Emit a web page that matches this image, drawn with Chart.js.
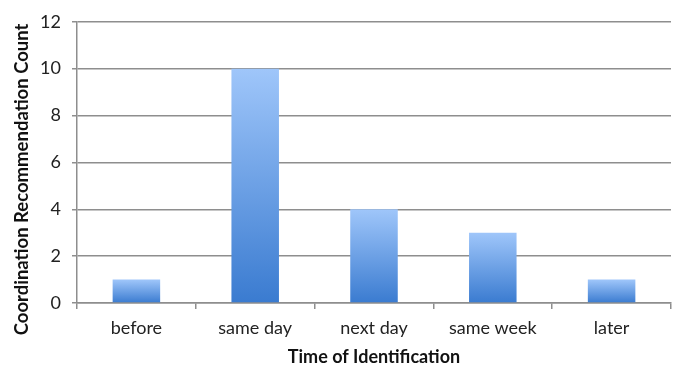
<!DOCTYPE html>
<html>
<head>
<meta charset="utf-8">
<script src="https://cdn.jsdelivr.net/npm/chart.js@4/dist/chart.umd.min.js"></script>
<style>
  html, body { margin: 0; padding: 0; background: #ffffff; }
  #wrap { width: 679px; height: 372px; position: relative; }
</style>
</head>
<body>
<div id="wrap"><canvas id="c" width="679" height="372"></canvas></div>
<script>
// Timing categories and recommendation counts
const categories = ['before', 'same day', 'next day', 'same week', 'later'];
const counts = [1, 10, 4, 3, 1];
const yTicks = [0, 2, 4, 6, 8, 10, 12];
const yTitle = 'Coordination Recommendation Count';

const FONT = 'Lato, "Open Sans", sans-serif';
const GRID = '#8e8e8e';

// Each bar gets its own vertical gradient, light at the top and deeper at the base
function barGradient(context) {
  const chart = context.chart;
  const yScale = chart.scales.y;
  if (!chart.chartArea || !yScale) return '#6aa1e8';
  const v = context.raw;
  const top = yScale.getPixelForValue(v);
  const base = yScale.getPixelForValue(0);
  if (!isFinite(top) || !isFinite(base) || top === base) return '#6aa1e8';
  const g = chart.ctx.createLinearGradient(0, top, 0, base);
  g.addColorStop(0, '#9fc6fa');
  g.addColorStop(1, '#3a7bd0');
  return g;
}

// Vertical axis title, sitting slightly below the middle of the value axis
const yTitlePlugin = {
  id: 'yTitle',
  afterDraw(chart) {
    const ctx = chart.ctx;
    const y = chart.scales.y;
    ctx.save();
    ctx.translate(22, (y.top + y.bottom) / 2 + 17);
    ctx.rotate(-Math.PI / 2);
    ctx.font = 'bold 18.5px ' + FONT;
    ctx.fillStyle = '#111111';
    ctx.textAlign = 'center';
    ctx.textBaseline = 'middle';
    ctx.fillText(yTitle, 0, 0);
    ctx.restore();
  }
};

new Chart(document.getElementById('c'), {
  type: 'bar',
  data: {
    labels: categories,
    datasets: [{
      data: counts,
      backgroundColor: barGradient,
      borderWidth: 0,
      barPercentage: 0.4,
      categoryPercentage: 1.0
    }]
  },
  plugins: [yTitlePlugin],
  options: {
    responsive: false,
    animation: false,
    devicePixelRatio: 1,
    layout: { padding: { top: 12, right: 8, left: 0, bottom: 0 } },
    plugins: {
      legend: { display: false },
      tooltip: { enabled: false }
    },
    scales: {
      x: {
        offset: true,
        grid: {
          offset: true,
          drawOnChartArea: false,
          drawTicks: true,
          tickLength: 6,
          color: GRID,
          lineWidth: 1.5
        },
        border: { display: true, color: GRID, width: 1.5 },
        ticks: {
          color: '#222222',
          font: { family: FONT, size: 18 },
          padding: 8,
          maxRotation: 0
        },
        title: {
          display: true,
          text: 'Time of Identification',
          color: '#111111',
          font: { family: FONT, size: 18, weight: 'bold' },
          padding: { top: 4, bottom: 4 }
        },
        afterFit: (scale) => { scale.height = 69; }
      },
      y: {
        min: 0,
        max: 12,
        afterBuildTicks: (scale) => { scale.ticks = yTicks.map(v => ({ value: v })); },
        grid: {
          color: GRID,
          lineWidth: 1.5,
          drawTicks: true,
          tickLength: 5
        },
        border: { display: true, color: GRID, width: 1.5 },
        ticks: {
          color: '#222222',
          font: { family: FONT, size: 18 },
          padding: 11
        },
        afterFit: (scale) => { scale.width = 77; }
      }
    }
  }
});
</script>
</body>
</html>
